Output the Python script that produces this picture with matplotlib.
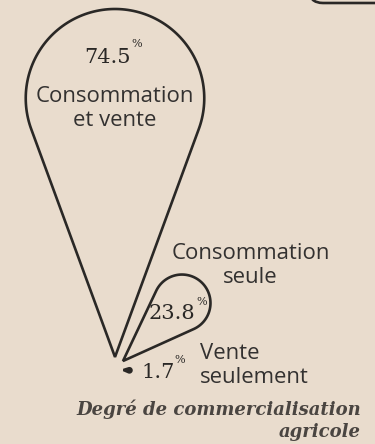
import numpy as np
import matplotlib
matplotlib.use("Agg")
import matplotlib.pyplot as plt
from matplotlib.patches import Polygon, FancyBboxPatch

# ---- data ----
categories = [["Consommation", "et vente"], ["Consommation", "seule"], ["Vente", "seulement"]]
values = [74.5, 23.8, 1.7]
value_labels = ["74.5", "23.8", "1.7"]
title_lines = ["Degré de commercialisation", "agricole"]

# ---- style / layout (pixel coordinates, y downwards) ----
W, H = 375, 444
BG = "#e9dccd"
INK = "#2a2826"
TXT = "#333130"
SCALE = 348 / 74.5          # px of petal length per percent
RHO = 0.345                 # head radius / tip-to-centre distance
tips = [(115, 357), (123, 361), (123.5, 370)]
angles = [0.0, 45.5, 93.0]  # degrees clockwise from "up"

fig = plt.figure(figsize=(W / 100, H / 100), dpi=100)
fig.patch.set_facecolor(BG)
ax = fig.add_axes([0, 0, 1, 1])
ax.set_facecolor(BG)
ax.set_xlim(0, W)
ax.set_ylim(H, 0)
ax.axis("off")


def petal(tip, ang_deg, length, n=120):
    a = np.deg2rad(ang_deg)
    u = np.array([np.sin(a), -np.cos(a)])
    d = length / (1 + RHO)
    r = RHO * d
    T = np.array(tip, float)
    C = T + d * u
    alpha = np.arcsin(r / d)
    base = np.arctan2(u[1], u[0])
    phi1 = base + np.pi - (np.pi / 2 - alpha)
    phi2 = base + np.pi + (np.pi / 2 - alpha)
    phis = np.linspace(phi2, phi1 + 2 * np.pi, n)
    arc = np.column_stack([C[0] + r * np.cos(phis), C[1] + r * np.sin(phis)])
    return np.vstack([T, arc, T])


for i, (v, tip, ang) in enumerate(zip(values, tips, angles)):
    pts = petal(tip, ang, v * SCALE)
    filled = i == 2
    ax.add_patch(Polygon(pts, closed=True, facecolor=INK if filled else "none",
                         edgecolor=INK, lw=1.9, joinstyle="miter"))

# decorative corner of an element above
ax.add_patch(FancyBboxPatch((309, -60), 120, 63,
                            boxstyle="round,pad=0,rounding_size=14",
                            facecolor="none", edgecolor=INK, lw=1.9))

serif = ["DejaVu Serif"]
sans = ["Open Sans", "DejaVu Sans"]
SANS_SIZE = 15.9
LINE = 24


def lines(x, y, txts, ha):
    for j, t in enumerate(txts):
        ax.text(x, y + j * LINE, t, fontsize=SANS_SIZE, family=sans, color=TXT,
                ha=ha, va="baseline")


# big petal labels
ax.text(108, 63, value_labels[0], fontsize=15, family=serif, color=INK,
        ha="center", va="baseline")
ax.text(131, 47, "%", fontsize=8, family=serif, color=INK, ha="left", va="baseline")
lines(115, 102, categories[0], "center")

# medium petal labels
ax.text(172, 319, value_labels[1], fontsize=15, family=serif, color=INK,
        ha="center", va="baseline")
ax.text(196, 305, "%", fontsize=8, family=serif, color=INK, ha="left", va="baseline")
lines(250.5, 259, categories[1], "center")

# small petal labels
ax.text(158, 378, value_labels[2], fontsize=15, family=serif, color=INK,
        ha="center", va="baseline")
ax.text(174, 363, "%", fontsize=8, family=serif, color=INK, ha="left", va="baseline")
lines(200, 359, categories[2], "left")

# title
for j, t in enumerate(title_lines):
    ax.text(361, 415 + j * 22, t, fontsize=13, family=serif, style="italic",
            weight="bold", color="#4a4541", ha="right", va="baseline")

fig.savefig("out.png", dpi=100, facecolor=BG)
